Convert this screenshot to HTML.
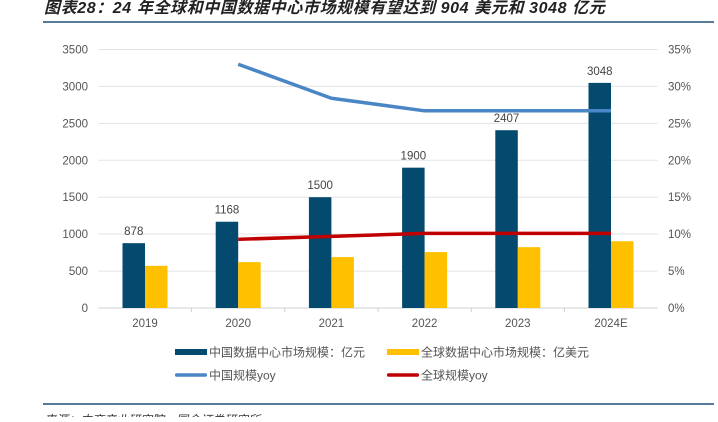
<!DOCTYPE html>
<html><head><meta charset="utf-8">
<style>
body{margin:0;background:#fff;width:718px;height:417px;overflow:hidden;font-family:"Liberation Sans","Noto Sans CJK SC",sans-serif;}
</style></head>
<body>
<svg id="c" width="718" height="417" xmlns="http://www.w3.org/2000/svg">
<text x="44" y="13" font-size="16" font-style="italic" font-weight="bold" letter-spacing="0.6" fill="#222" font-family="'Liberation Sans','Noto Sans CJK SC',sans-serif">图表28：24 年全球和中国数据中心市场规模有望达到 904 美元和 3048 亿元</text>
<line x1="43" y1="22" x2="714" y2="22" stroke="#1f4e79" stroke-width="1.5"/>
<line x1="43" y1="404" x2="714" y2="404" stroke="#1f4e79" stroke-width="1.5"/>
<text x="44" y="424" font-size="12" font-style="italic" fill="#333">来源：中商产业研究院，国金证券研究所</text>
<g id="plot"></g>
</svg>
<script>
const categories=["2019","2020","2021","2022","2023","2024E"];
const chinaSize=[878,1168,1500,1900,2407,3048];
const globalSize=[571,621,689,757,824,904];
const chinaYoy=[null,33.0,28.4,26.7,26.7,26.7];
const globalYoy=[null,9.3,9.7,10.1,10.1,10.1];
const leftTicks=[0,500,1000,1500,2000,2500,3000,3500];
const rightTicks=[0,5,10,15,20,25,30,35];

const NS="http://www.w3.org/2000/svg";
const g=document.getElementById('plot');
const X0=98.4,X1=657.6,Y0=308,Y1=49.5;
const step=(X1-X0)/categories.length;
const xc=i=>X0+step*(i+0.5);
const yL=v=>Y0-(v/3500)*(Y0-Y1);
const yR=v=>Y0-(v/35)*(Y0-Y1);
function el(t,a,p){const e=document.createElementNS(NS,t);for(const k in a)e.setAttribute(k,a[k]);(p||g).appendChild(e);return e;}

leftTicks.forEach((v,i)=>{
  const l=el('line',{x1:X0,x2:X1,y1:yL(v),y2:yL(v),stroke:v===0?'#d0d0d0':'#e3e3e3','stroke-width':1});
  
  
  const t=el('text',{x:88,y:yL(v)+4,'font-size':11.5,fill:'#555','text-anchor':'end'});
  t.textContent=v;
  
  
});
rightTicks.forEach(v=>{
  const t=el('text',{x:668,y:yR(v)+4,'font-size':11.5,fill:'#555'});
  t.textContent=v+'%';
  
  
});
for(let i=1;i<categories.length;i++){
  const tk=el('line',{x1:X0+step*i,x2:X0+step*i,y1:Y0,y2:Y0+4,stroke:'#d0d0d0'});
  
  
}
const bw=22.5;
categories.forEach((c,i)=>{
  const b=el('rect',{x:xc(i)-bw,y:yL(chinaSize[i]),width:bw,height:Y0-yL(chinaSize[i]),fill:'#044a6e'});
  
  
  const b2=el('rect',{x:xc(i),y:yL(globalSize[i]),width:bw,height:Y0-yL(globalSize[i]),fill:'#ffc000'});
  
  
  const lb=el('text',{x:xc(i)-bw/2,y:yL(chinaSize[i])-8,'font-size':11.5,fill:'#444','text-anchor':'middle'});
  lb.textContent=chinaSize[i];
  
  
  const xl=el('text',{x:xc(i),y:327,'font-size':11.5,fill:'#555','text-anchor':'middle'});
  xl.textContent=c;
  
  
});
function line(arr,color,name){
  const pts=[];arr.forEach((v,i)=>{if(v!==null)pts.push(xc(i)+','+yR(v));});
  const p=el('polyline',{points:pts.join(' '),fill:'none',stroke:color,'stroke-width':3.5,'stroke-linejoin':'round'});
  
  
}
line(chinaYoy,'#4a86c5','china-yoy-line');
line(globalYoy,'#c00000','global-yoy-line');

const leg=[[175,352,'#044a6e','中国数据中心市场规模：亿元','legend-china-size',6],
[387,352,'#ffc000','全球数据中心市场规模：亿美元','legend-global-size',6],
[175,375,'#4a86c5','中国规模yoy','legend-china-yoy',3.5],
[387,375,'#c00000','全球规模yoy','legend-global-yoy',3.5]];
leg.forEach(l=>{
  const gr=el('g',{});
  
  
  el('rect',{x:l[0],y:l[1]-l[5]/2,width:32,height:l[5],fill:l[2],rx:l[5]<5?1.5:0},gr);
  const t=el('text',{x:l[0]+34,y:l[1]+4.5,'font-size':12,fill:'#555'},gr);
  t.textContent=l[3];
});
</script>
</body></html>
